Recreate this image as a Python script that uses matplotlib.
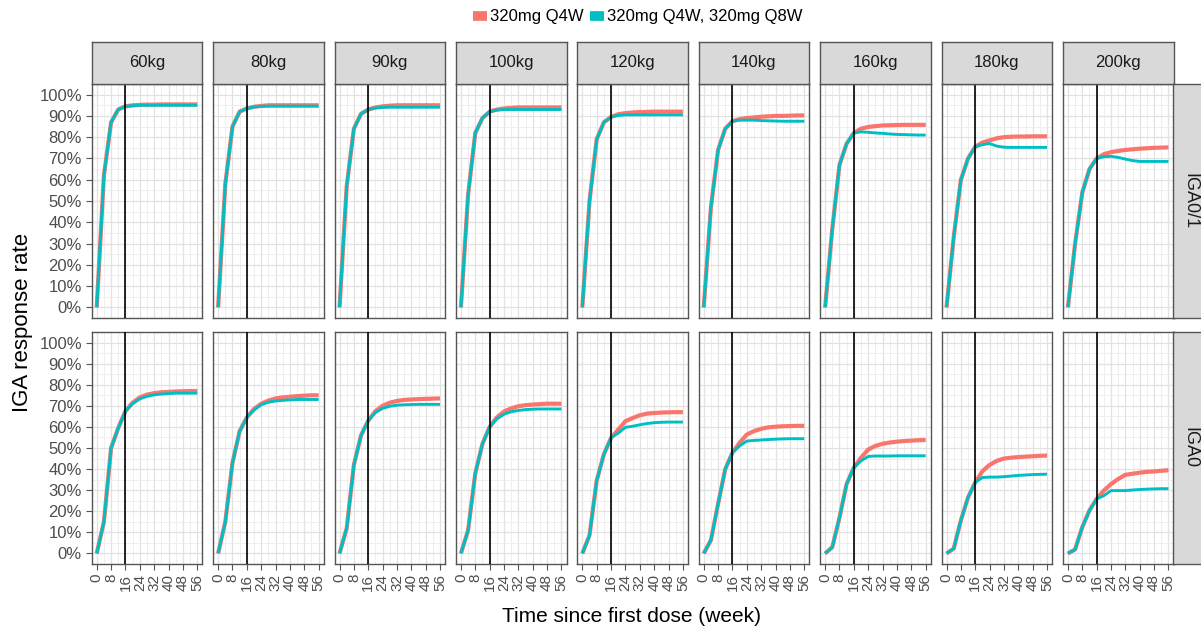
import matplotlib
matplotlib.use("Agg")
import matplotlib.pyplot as plt
from matplotlib.lines import Line2D

plt.rcParams['font.family'] = ['Liberation Sans', 'DejaVu Sans']

weights = ['60kg', '80kg', '90kg', '100kg', '120kg', '140kg', '160kg', '180kg', '200kg']
weeks = [0, 4, 8, 12, 16, 20, 24, 28, 32, 36, 40, 44, 48, 52, 56]
rows = ['IGA0/1', 'IGA0']

# response rate (%) per weight, top row (IGA0/1)
iga01_q4w = [
    [0, 62, 87, 93, 94.5, 95, 95.2, 95.3, 95.3, 95.4, 95.4, 95.4, 95.4, 95.4, 95.4],
    [0, 58, 85, 92, 93.5, 94.3, 94.7, 95, 95, 95, 95, 95, 95, 95, 95],
    [0, 57, 84, 91, 93, 94, 94.5, 94.8, 95, 95, 95, 95, 95, 95, 95],
    [0, 53, 82, 89, 92, 93, 93.5, 93.8, 94, 94, 94, 94, 94, 94, 94],
    [0, 50, 79, 87, 89.5, 90.8, 91.3, 91.6, 91.8, 91.9, 92, 92, 92, 92, 92],
    [0, 47, 74, 84, 87.5, 88.5, 89, 89.3, 89.6, 89.8, 90, 90, 90.1, 90.2, 90.2],
    [0, 37, 67, 77, 82, 84, 84.8, 85.2, 85.5, 85.6, 85.7, 85.8, 85.8, 85.8, 85.8],
    [0, 33, 60, 70, 75.5, 77.5, 78.5, 79.5, 80, 80.2, 80.3, 80.3, 80.4, 80.4, 80.4],
    [0, 30, 54, 65, 70, 72, 73, 73.5, 74, 74.3, 74.6, 74.8, 75, 75.1, 75.2],
]
iga01_q8w = [
    [0, 62, 87, 93, 94.5, 94.8, 95, 95, 95, 95, 95, 95, 95, 95, 95],
    [0, 58, 85, 92, 93.5, 94.2, 94.5, 94.6, 94.6, 94.6, 94.6, 94.6, 94.6, 94.6, 94.6],
    [0, 57, 84, 91, 93, 93.7, 94, 94.1, 94.1, 94.1, 94.1, 94.1, 94.1, 94.1, 94.1],
    [0, 53, 82, 89, 92, 92.7, 93, 93, 93, 93, 93, 93, 93, 93, 93],
    [0, 50, 79, 87, 89.5, 90.2, 90.5, 90.5, 90.5, 90.5, 90.5, 90.5, 90.5, 90.5, 90.5],
    [0, 47, 74, 84, 87.5, 88, 88, 88, 87.8, 87.7, 87.6, 87.5, 87.5, 87.5, 87.5],
    [0, 37, 67, 77, 82, 82.5, 82.3, 82, 81.8, 81.5, 81.3, 81.2, 81.1, 81, 81],
    [0, 33, 60, 70, 75.5, 76.5, 77, 75.8, 75.3, 75.2, 75.2, 75.2, 75.2, 75.2, 75.2],
    [0, 30, 54, 65, 70, 70.8, 71, 70.5, 69.7, 69, 68.6, 68.6, 68.6, 68.6, 68.6],
]
# bottom row (IGA0)
iga0_q4w = [
    [0, 15, 50, 59.5, 67.5, 71.5, 74, 75.3, 76, 76.4, 76.6, 76.8, 76.9, 77, 77],
    [0, 15, 43, 58, 64.5, 68.5, 71, 72.5, 73.5, 74, 74.3, 74.6, 74.8, 75, 75],
    [0, 12, 42, 56, 63, 67.5, 70, 71.5, 72.3, 72.8, 73, 73.2, 73.3, 73.4, 73.5],
    [0, 11, 38, 52, 60, 64.5, 67.3, 68.8, 69.8, 70.3, 70.6, 70.8, 71, 71, 71],
    [0, 8.6, 34.5, 47, 54.8, 58.7, 62.7, 64.2, 65.5, 66.3, 66.6, 66.8, 66.9, 67, 67],
    [0, 6.3, 23.5, 40, 47.8, 52.5, 56.4, 58, 59.1, 59.8, 60.1, 60.3, 60.4, 60.5, 60.5],
    [0, 3, 17, 33, 40.7, 45.4, 49.3, 51, 52, 52.6, 53, 53.3, 53.5, 53.7, 53.8],
    [0, 2.3, 15.7, 26.6, 33.7, 39, 42, 43.9, 45, 45.4, 45.7, 45.9, 46.1, 46.3, 46.4],
    [0, 1.9, 12.5, 20.4, 25.9, 29.8, 32.9, 35.3, 37.3, 37.8, 38.3, 38.7, 38.9, 39.2, 39.5],
]
iga0_q8w = [
    [0, 15, 50, 59.5, 67.5, 71, 73.3, 74.5, 75.2, 75.6, 75.8, 76, 76, 76, 76],
    [0, 15, 43, 58, 64.5, 68, 70.5, 71.7, 72.3, 72.6, 72.8, 73, 73, 73, 73],
    [0, 12, 42, 56, 63, 66.8, 68.8, 69.8, 70.3, 70.5, 70.6, 70.7, 70.7, 70.7, 70.7],
    [0, 11, 38, 52, 60, 63.8, 66, 67.2, 67.8, 68.2, 68.4, 68.5, 68.5, 68.5, 68.5],
    [0, 8.6, 34.5, 47, 54.8, 57.1, 59.8, 60.3, 61, 61.6, 62, 62.2, 62.3, 62.3, 62.3],
    [0, 6.3, 23.5, 40, 47.8, 51, 53.3, 53.6, 53.8, 54, 54.2, 54.3, 54.4, 54.4, 54.4],
    [0, 3, 17, 33, 40.7, 43.9, 46, 46.2, 46.2, 46.2, 46.3, 46.3, 46.3, 46.3, 46.3],
    [0, 2.3, 15.7, 26.6, 33.7, 36, 36.2, 36.2, 36.4, 36.7, 37, 37.2, 37.4, 37.5, 37.6],
    [0, 1.9, 12.5, 20.4, 25.9, 27.4, 29.8, 29.8, 29.8, 30.1, 30.3, 30.5, 30.6, 30.7, 30.7],
]

W, H = 1201, 633
RED = '#F8766D'
CYAN = '#00BFC4'
BORDER = '#555555'
TXT = '#4D4D4D'

fig = plt.figure(figsize=(W / 100, H / 100), dpi=100)


def px_axes(x0, y0, x1, y1):
    return fig.add_axes([x0 / W, 1 - y1 / H, (x1 - x0) / W, (y1 - y0) / H])


left0, step, pw = 91.7, 121.4, 110.6
row_y = [(84, 318), (332, 564)]
data = [(iga01_q4w, iga01_q8w), (iga0_q4w, iga0_q8w)]

for r, (y0, y1) in enumerate(row_y):
    q4, q8 = data[r]
    for c, w in enumerate(weights):
        x0 = left0 + c * step
        ax = px_axes(x0, y0, x0 + pw, y1)
        ax.set_xlim(-2.8, 58.8)
        ax.set_ylim(-5, 105)
        ax.set_xticks(range(0, 57, 8))
        ax.set_xticks(range(4, 57, 8), minor=True)
        ax.set_yticks(range(0, 101, 10))
        ax.set_yticks(range(5, 100, 10), minor=True)
        ax.grid(which='major', color='#E2E2E2', lw=0.9)
        ax.grid(which='minor', color='#ECECEC', lw=0.6)
        ax.set_axisbelow(True)
        ax.plot(weeks, q4[c], color=RED, lw=3.0, zorder=2, solid_capstyle='butt')
        ax.plot(weeks, q8[c], color=CYAN, lw=2.1, zorder=3, solid_capstyle='butt')
        ax.axvline(16, color='black', lw=1.2, zorder=4)
        for s in ax.spines.values():
            s.set_color(BORDER)
            s.set_linewidth(1.0)
        ax.tick_params(which='minor', length=0)
        ax.tick_params(which='major', length=4, width=0.8, color=BORDER,
                       labelcolor=TXT, labelsize=12, pad=3)
        if c == 0:
            ax.set_yticklabels([f'{v}%' for v in range(0, 101, 10)])
        else:
            ax.tick_params(axis='y', length=0, labelleft=False)
        if r == 1:
            ax.set_xticklabels([str(v) for v in range(0, 57, 8)], rotation=90,
                               fontsize=11)
        else:
            ax.tick_params(axis='x', length=0, labelbottom=False)

        if r == 0:
            st = px_axes(x0, 42, x0 + pw, 84)
            st.set_facecolor('#D9D9D9')
            st.set_xticks([])
            st.set_yticks([])
            for s in st.spines.values():
                s.set_color(BORDER)
                s.set_linewidth(1.0)
            st.text(0.5, 0.5, w, ha='center', va='center', fontsize=12,
                    color='#1A1A1A', transform=st.transAxes)

    rs = px_axes(1173.3, y0, 1207, y1)
    rs.set_facecolor('#D9D9D9')
    rs.set_xticks([])
    rs.set_yticks([])
    for s in rs.spines.values():
        s.set_color(BORDER)
        s.set_linewidth(1.0)
    rs.text(0.5, 0.5, rows[r], ha='center', va='center', rotation=-90,
            fontsize=13, color='#1A1A1A', transform=rs.transAxes)

fig.text(632 / W, 1 - 617 / H, 'Time since first dose (week)', ha='center',
         va='center', fontsize=15, color='black')
fig.text(23 / W, 1 - 322 / H, 'IGA response rate', ha='center', va='center',
         rotation=90, fontsize=16, color='black')

handles = [Line2D([], [], color=RED, lw=7, solid_capstyle='butt'),
           Line2D([], [], color=CYAN, lw=7, solid_capstyle='butt')]
fig.legend(handles, ['320mg Q4W', '320mg Q4W, 320mg Q8W'], loc='center',
           bbox_to_anchor=(638 / W, 1 - 17 / H), ncol=2, frameon=False,
           fontsize=12, handlelength=0.8, handletextpad=0.2, columnspacing=0.4,
           borderaxespad=0)

fig.savefig('out.png', dpi=100)
